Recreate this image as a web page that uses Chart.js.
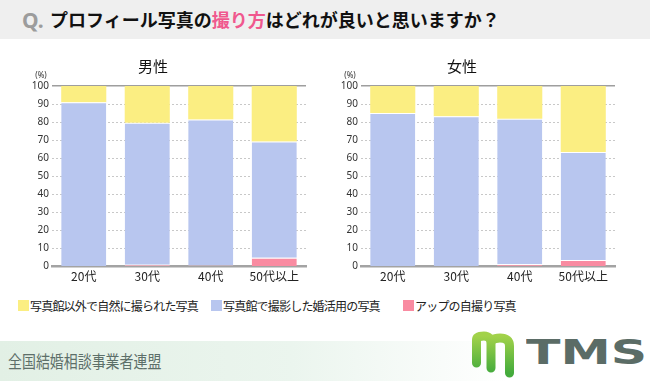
<!DOCTYPE html>
<html>
<head>
<meta charset="utf-8">
<script src="https://cdn.jsdelivr.net/npm/chart.js@4"></script>
<style>
  body { margin: 0; width: 650px; height: 381px; background: #fff; overflow: hidden; position: relative;
         font-family: "Noto Sans CJK JP", "Noto Sans", sans-serif; }
  .qbar { position: absolute; left: 0; top: 0; width: 650px; height: 39px; background: #efefef; }
  .qbar .q { position: absolute; left: 22px; top: 6px; font: bold 21px "Noto Sans", sans-serif; color: #9c9c9c; }
  .qbar .t { position: absolute; left: 50px; top: 6px; font-size: 18px; font-weight: bold; color: #111; line-height: 26px; }
  .qbar .t span { color: #f0588e; }
  .cv { position: absolute; top: 40px; }
  #legend { position: absolute; left: 0; top: 296px; width: 650px; height: 20px; }
  .li { position: absolute; top: 0; display: flex; align-items: center; height: 18px; font-size: 12px; letter-spacing: -0.8px; color: #222; white-space: nowrap; }
  .li i { display: inline-block; width: 11px; height: 11px; margin-right: 1px; }
  .foot { position: absolute; left: 0; top: 341px; width: 650px; height: 40px;
          background: linear-gradient(to right, #e2f0e5 0%, #ebf5ee 45%, rgba(255,255,255,0) 78%); }
  .foot .org { position: absolute; left: 8px; top: 7px; font-size: 17px; color: #5d6f69; transform: scaleX(0.82); transform-origin: left center; white-space: nowrap; }
  .logo { position: absolute; left: 469px; top: 331px; }
  .tms { position: absolute; left: 526px; top: 333px; font: bold 33px "DejaVu Sans", sans-serif; color: #5b6c66;
         transform: scaleX(1.53); transform-origin: left center; }
</style>
</head>
<body>
<div class="qbar"><div class="q">Q.</div><div class="t">プロフィール写真の<span>撮り方</span>はどれが良いと思いますか？</div></div>
<canvas id="men" class="cv" style="left:0px" width="340" height="255"></canvas>
<canvas id="women" class="cv" style="left:309px" width="340" height="255"></canvas>
<div id="legend"></div>
<div class="foot"><div class="org">全国結婚相談事業者連盟</div></div>
<svg class="logo" width="50" height="48" viewBox="0 0 50 48">
  <defs><linearGradient id="g" x1="0" y1="0" x2="0" y2="1"><stop offset="0" stop-color="#a2d24a"/><stop offset="1" stop-color="#44ab3c"/></linearGradient></defs>
  <path d="M7.5,32 L7.5,9 Q7.5,5 15,5 Q22,5 22,13 L22,37 M22,13 Q22,7 31,7 Q40.5,7 40.5,15 L40.5,42" fill="none" stroke="url(#g)" stroke-width="9" stroke-linecap="round" stroke-linejoin="round"/>
</svg>
<div class="tms">TMS</div>
<script>
var ages = ["20代", "30代", "40代", "50代以上"];
var seriesNames = ["アップの自撮り写真", "写真館で撮影した婚活用の写真", "写真館以外で自然に撮られた写真"];
var seriesColors = ["#f98ba1", "#b8c6ef", "#fbee82"];

// men (%)
var menSelfie = [0, 1, 0.6, 4.9];
var menStudio = [91, 78.6, 80.9, 64.4];
var menNatural = [9, 20.4, 18.5, 30.7];
// women (%)
var womenSelfie = [0, 0, 1.3, 3.7];
var womenStudio = [85, 83.3, 80.5, 59.8];
var womenNatural = [15, 16.7, 18.2, 36.5];

var yTicks = [0, 10, 20, 30, 40, 50, 60, 70, 80, 90, 100];

var percentLabel = {
  id: 'percentLabel',
  afterDraw: function(chart) {
    var c = chart.ctx, a = chart.chartArea;
    c.save();
    c.font = '8px "Noto Sans", sans-serif';
    c.fillStyle = '#333';
    c.textAlign = 'center';
    c.fillText('(%)', a.left - 11, a.top - 8);
    c.restore();
  }
};

function makeChart(id, title, selfie, studio, natural) {
  var sets = [selfie, studio, natural].map(function(d, i) {
    return {
      label: seriesNames[i],
      data: d,
      backgroundColor: seriesColors[i],
      borderColor: '#ffffff',
      borderWidth: i < 2 ? { top: 1, left: 0, right: 0, bottom: 0 } : 0,
      borderSkipped: 'start',
      barPercentage: 0.71,
      categoryPercentage: 1
    };
  });
  return new Chart(document.getElementById(id), {
    type: 'bar',
    data: { labels: ages, datasets: sets },
    plugins: [percentLabel],
    options: {
      responsive: false,
      animation: false,
      layout: { padding: { left: 0, right: 34, top: 0, bottom: 8 } },
      plugins: {
        legend: { display: false },
        tooltip: { enabled: false },
        title: {
          display: true,
          text: title,
          color: '#111',
          font: { size: 15, family: '"Noto Sans CJK JP"', weight: 'normal' },
          padding: { top: 17, bottom: 11 }
        }
      },
      scales: {
        x: {
          stacked: true,
          grid: { display: false, drawTicks: false },
          border: { display: true, color: '#a3a3a3', width: 2.5 },
          ticks: { color: '#222', padding: 3, font: { size: 12, family: '"Noto Sans CJK JP"' } }
        },
        y: {
          stacked: true,
          min: 0,
          max: 100,
          afterFit: function(s) { s.width = 52; },
          afterBuildTicks: function(s) { s.ticks = yTicks.map(function(v) { return { value: v }; }); },
          border: {
            display: false,
            dash: function(ctx) { return ctx.tick && ctx.tick.value === 100 ? [] : [2, 2]; }
          },
          grid: {
            drawTicks: false,
            color: function(ctx) {
              if (!ctx.tick) return '#ccc';
              if (ctx.tick.value === 0) return 'rgba(0,0,0,0)';
              if (ctx.tick.value === 100) return '#9e9e9e';
              return '#c8c8c8';
            },
            lineWidth: function(ctx) { return ctx.tick && ctx.tick.value === 100 ? 1.5 : 1; }
          },
          ticks: { color: '#333', padding: 3, font: { size: 10, family: '"Noto Sans", sans-serif' } }
        }
      }
    }
  });
}

makeChart('men', '男性', menSelfie, menStudio, menNatural);
makeChart('women', '女性', womenSelfie, womenStudio, womenNatural);

// shared legend, top row order: natural, studio, selfie
var legendLeft = [18, 211, 403];
var lg = document.getElementById('legend');
[2, 1, 0].forEach(function(k, j) {
  var d = document.createElement('div');
  d.className = 'li';
  d.style.left = legendLeft[j] + 'px';
  d.innerHTML = '<i style="background:' + seriesColors[k] + '"></i>' + seriesNames[k];
  lg.appendChild(d);
});
</script>
</body>
</html>
